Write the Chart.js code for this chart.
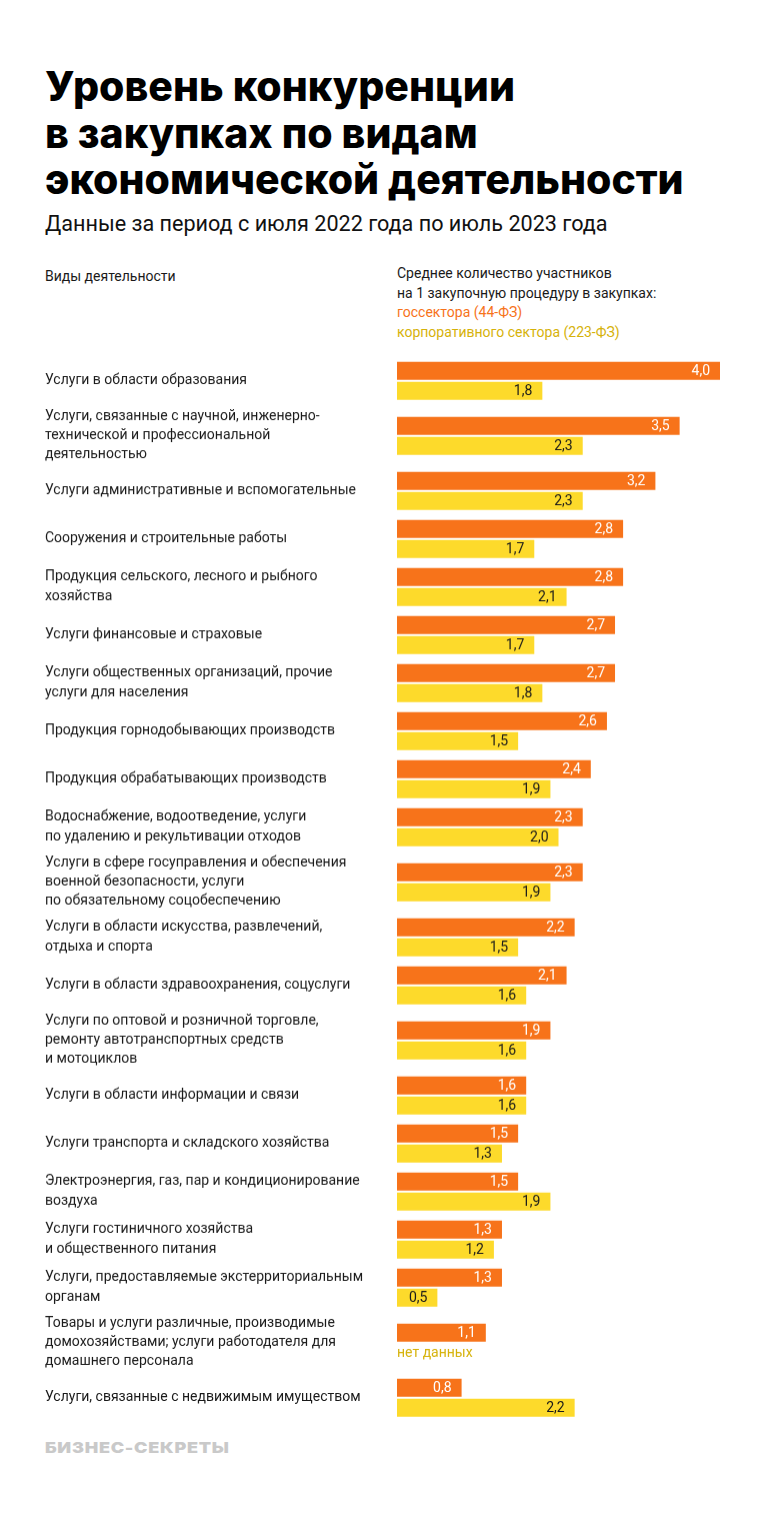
<!DOCTYPE html>
<html lang="ru">
<head>
<meta charset="utf-8">
<script src="https://cdn.jsdelivr.net/npm/chart.js@4"></script>
<style>
  body { margin: 0; background: #fff; width: 764px; height: 1520px; position: relative; overflow: hidden; font-family: Roboto, "Liberation Sans", sans-serif; color: #1a1a1a; }
  .title { position: absolute; left: 45px; top: 63px; font-family: Inter, sans-serif; font-weight: 800; font-size: 41px; line-height: 46.5px; letter-spacing: 0; color: #000; }
  .sub { position: absolute; left: 45px; top: 211px; font-size: 21.6px; color: #111; }
  .hleft { position: absolute; left: 45px; top: 268px; font-size: 14px; }
  .hright { position: absolute; left: 397px; top: 264px; font-size: 14px; line-height: 19.5px; }
  .hright .o { color: #f7731a; }
  .hright .y { color: #d6b20a; }
  .logo { position: absolute; left: 45px; top: 1438px; font-family: Inter, sans-serif; font-weight: 900; font-size: 15px; letter-spacing: 0.6px; color: #c9c9c9; transform: scaleX(1.2); transform-origin: left top; }
  #wrap { position: absolute; left: 0; top: 355px; width: 764px; height: 1068px; }
</style>
</head>
<body>
<div class="title">Уровень конкуренции<br>в закупках по видам<br>экономической деятельности</div>
<div class="sub">Данные за период с июля 2022 года по июль 2023 года</div>
<div class="hleft">Виды деятельности</div>
<div class="hright">Среднее количество участников<br>на 1 закупочную процедуру в закупках:<br><span class="o">госсектора (44-ФЗ)</span><br><span class="y">корпоративного сектора (223-ФЗ)</span></div>
<div id="wrap"><canvas id="chart"></canvas></div>
<div class="logo">БИЗНЕС-СЕКРЕТЫ</div>
<script>
"use strict";

// виды деятельности (подписи строк)
const categories = [
    ["Услуги в области образования"],
    ["Услуги, связанные с научной, инженерно-", "технической и профессиональной", "деятельностью"],
    ["Услуги административные и вспомогательные"],
    ["Сооружения и строительные работы"],
    ["Продукция сельского, лесного и рыбного", "хозяйства"],
    ["Услуги финансовые и страховые"],
    ["Услуги общественных организаций, прочие", "услуги для населения"],
    ["Продукция горнодобывающих производств"],
    ["Продукция обрабатывающих производств"],
    ["Водоснабжение, водоотведение, услуги", "по удалению и рекультивации отходов"],
    ["Услуги в сфере госуправления и обеспечения", "военной безопасности, услуги", "по обязательному соцобеспечению"],
    ["Услуги в области искусства, развлечений,", "отдыха и спорта"],
    ["Услуги в области здравоохранения, соцуслуги"],
    ["Услуги по оптовой и розничной торговле,", "ремонту автотранспортных средств", "и мотоциклов"],
    ["Услуги в области информации и связи"],
    ["Услуги транспорта и складского хозяйства"],
    ["Электроэнергия, газ, пар и кондиционирование", "воздуха"],
    ["Услуги гостиничного хозяйства", "и общественного питания"],
    ["Услуги, предоставляемые экстерриториальным", "органам"],
    ["Товары и услуги различные, производимые", "домохозяйствами; услуги работодателя для", "домашнего персонала"],
    ["Услуги, связанные с недвижимым имуществом"]
];

// госсектор (44-ФЗ)
const gov44 = [4.0, 3.5, 3.2, 2.8, 2.8, 2.7, 2.7, 2.6, 2.4, 2.3, 2.3, 2.2, 2.1, 1.9, 1.6, 1.5, 1.5, 1.3, 1.3, 1.1, 0.8];
// корпоративный сектор (223-ФЗ), null = нет данных
const corp223 = [1.8, 2.3, 2.3, 1.7, 2.1, 1.7, 1.8, 1.5, 1.9, 2.0, 1.9, 1.5, 1.6, 1.6, 1.6, 1.3, 1.9, 1.2, 0.5, null, 2.2];

const xMin = 0;
const xMax = 4.0;

const ORANGE = "#f7731a";
const YELLOW = "#fdda2b";

// строки с длинной (3-строчной) подписью получают чуть больше места
const EXTRA = 0.146;
const rowPos = [];
categories.forEach(function (lab, i) {
    if (i === 0) { rowPos.push(0); return; }
    const wide = lab.length >= 3 || categories[i - 1].length >= 3;
    rowPos.push(rowPos[i - 1] + 1 + (wide ? EXTRA : 0));
});
const EDGE = 26 / 48;

// нужная область графика на странице
const AREA_TOP = 355;
const AREA_H = 1068;

function fmt(v) {
    return v.toFixed(1).replace(".", ",");
}

function toPoints(arr) {
    return arr.map(function (v, i) { return { x: v, y: rowPos[i] }; });
}

// подписи значений внутри столбиков
const valueLabels = {
    id: "valueLabels",
    afterDatasetsDraw(chart) {
        const c = chart.ctx;
        c.save();
        c.font = "14px Roboto, sans-serif";
        c.textBaseline = "middle";
        chart.data.datasets.forEach(function (ds, di) {
            const meta = chart.getDatasetMeta(di);
            meta.data.forEach(function (bar, i) {
                const v = ds.data[i].x;
                if (v == null) {
                    c.textAlign = "left";
                    c.fillStyle = "#d6b20a";
                    c.fillText("нет данных", chart.scales.x.getPixelForValue(0), bar.y + 1);
                    return;
                }
                c.textAlign = "right";
                c.fillStyle = di === 0 ? "#ffffff" : "#1a1a1a";
                c.fillText(fmt(v), bar.x - 10, bar.y + 1);
            });
        });
        c.restore();
    }
};

const ctx = document.getElementById("chart");
const chart = new Chart(ctx, {
    type: "bar",
    data: {
        datasets: [
            { label: "госсектора (44-ФЗ)", data: toPoints(gov44), backgroundColor: ORANGE },
            { label: "корпоративного сектора (223-ФЗ)", data: toPoints(corp223), backgroundColor: YELLOW }
        ]
    },
    options: {
        indexAxis: "y",
        responsive: true,
        maintainAspectRatio: false,
        animation: false,
        layout: { padding: { left: 45, right: 44, top: 0, bottom: 0 } },
        datasets: {
            bar: { categoryPercentage: 0.833, barPercentage: 0.9 }
        },
        scales: {
            x: { type: "linear", display: false, min: xMin, max: xMax },
            y: {
                type: "linear",
                reverse: true,
                offset: false,
                min: -EDGE,
                max: rowPos[rowPos.length - 1] + EDGE,
                grid: { display: false, drawTicks: false },
                border: { display: false },
                afterBuildTicks: function (scale) {
                    scale.ticks = rowPos.map(function (p) { return { value: p }; });
                },
                ticks: {
                    autoSkip: false,
                    crossAlign: "far",
                    padding: 0,
                    color: "#1a1a1a",
                    font: { family: "Roboto, sans-serif", size: 14, lineHeight: 1.38 },
                    callback: function (value, index) { return categories[index]; }
                },
                afterFit: function (scale) { scale.width = 352; }
            }
        },
        plugins: {
            legend: { display: false },
            tooltip: { enabled: false }
        }
    },
    plugins: [valueLabels]
});

// подгоняем холст так, чтобы область графика легла ровно на нужное место
const area = chart.chartArea;
const wrap = document.getElementById("wrap");
wrap.style.top = (AREA_TOP - area.top) + "px";
wrap.style.height = (AREA_H + area.top + (chart.height - area.bottom)) + "px";
chart.resize();
</script>
</body>
</html>
